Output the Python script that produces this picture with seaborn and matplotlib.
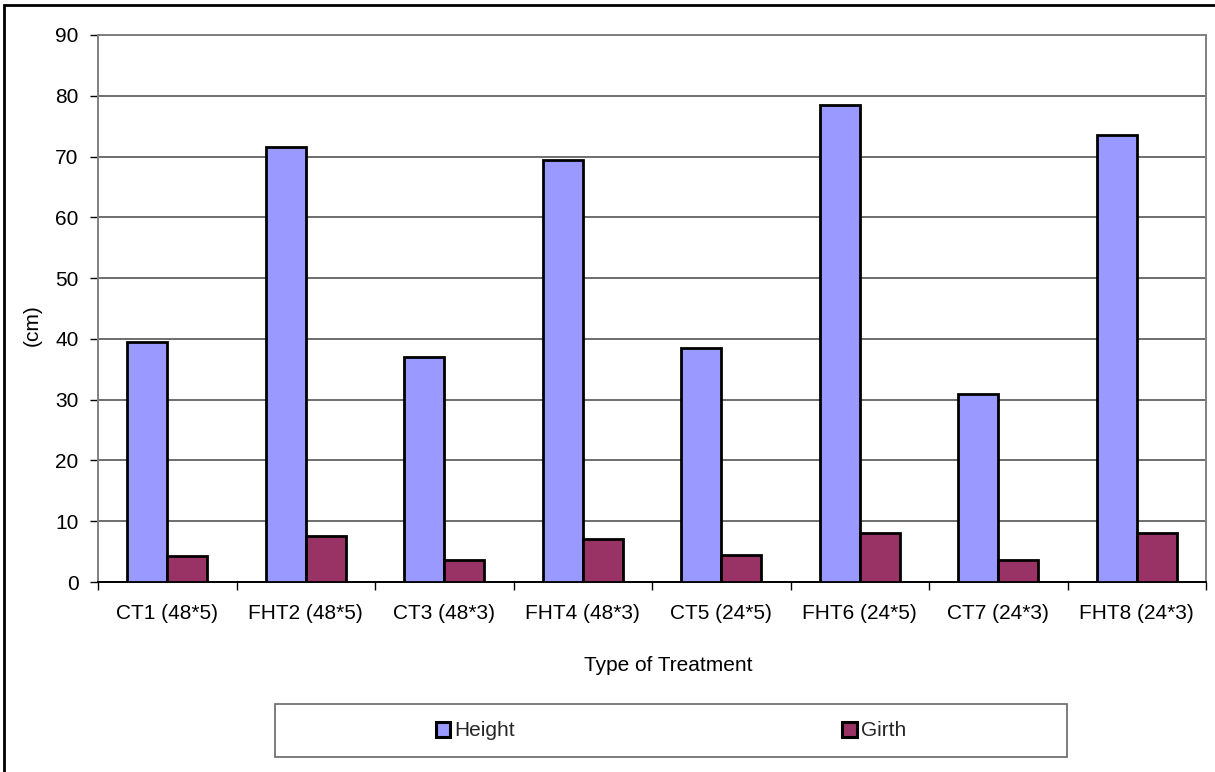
import matplotlib
matplotlib.use("Agg")
from matplotlib import pyplot as plt
from matplotlib.patches import Rectangle, Patch
import pandas as pd
import seaborn as sns
import numpy as np

# values
treatments = ["CT1 (48*5)", "FHT2 (48*5)", "CT3 (48*3)", "FHT4 (48*3)",
              "CT5 (24*5)", "FHT6 (24*5)", "CT7 (24*3)", "FHT8 (24*3)"]
height = [39.5, 71.5, 37.0, 69.5, 38.5, 78.5, 31.0, 73.5]
girth = [4.2, 7.5, 3.7, 7.0, 4.5, 8.0, 3.7, 8.0]
series = ["Height", "Girth"]
colors = ["#9999FF", "#993366"]
y_ticks = list(range(0, 100, 10))

df = pd.DataFrame({"Treatment": treatments * 2,
                   "Series": ["Height"] * len(treatments) + ["Girth"] * len(treatments),
                   "Value": height + girth})

sns.set_theme(style="white")
plt.rcParams['font.family'] = ['Liberation Sans', 'DejaVu Sans']

W, H = 1215, 772
FS = 15
fig = plt.figure(figsize=(W / 100, H / 100), dpi=100)
ax = fig.add_axes([98 / W, 1 - 582 / H, (1206 - 98) / W, (582 - 35) / H])

sns.barplot(ax=ax, data=df, x="Treatment", y="Value", hue="Series",
            hue_order=series, palette=colors, width=0.58, edgecolor="black",
            linewidth=2.0, saturation=1, legend=False, zorder=3)

ax.set_ylim(0, 90)
ax.set_xlim(-0.5, len(treatments) - 0.5)
ax.set_yticks(y_ticks)
ax.yaxis.grid(True, color="#555555", linewidth=1.2, zorder=0)
ax.set_axisbelow(True)

# tick marks between the categories, like the original
ax.set_xticks(np.arange(-0.5, len(treatments), 1.0), minor=True)
ax.tick_params(axis="x", which="major", length=0, pad=16, labelsize=FS, colors="black")
ax.tick_params(axis="x", which="minor", length=6, width=1, color="black", bottom=True)
ax.tick_params(axis="y", which="major", length=6, width=1, color="black", left=True,
               labelsize=FS, pad=8, labelcolor="black")

for side in ["left", "right", "top"]:
    ax.spines[side].set_color("#808080")
    ax.spines[side].set_linewidth(1.4)
ax.spines["bottom"].set_color("black")
ax.spines["bottom"].set_linewidth(1.4)

ax.set_xlabel("Type of Treatment", fontsize=FS, color="black")
ax.xaxis.set_label_coords((668 - 98) / 1108, -0.135)
ax.set_ylabel("(cm)", fontsize=FS, color="black")
ax.yaxis.set_label_coords(-0.051, 0.47)

# legend box
fig.add_artist(Rectangle((275 / W, 1 - 757 / H), (1067 - 275) / W, (757 - 704) / H,
                         transform=fig.transFigure, fill=False, edgecolor="#666666",
                         linewidth=1.2))
handles = [Patch(facecolor=c, edgecolor="black", linewidth=2.2, label=s)
           for s, c in zip(series, colors)]
fig.legend(handles=handles, loc="center", bbox_to_anchor=(671 / W, 1 - 731 / H),
           ncol=2, frameon=False, fontsize=FS, handlelength=0.7, handleheight=0.7,
           handletextpad=0.2, columnspacing=15.7)

# outer chart border
fig.add_artist(Rectangle((4 / W, -0.05), 1.1, 1 - 5 / H + 0.05, transform=fig.transFigure,
                         fill=False, edgecolor="black", linewidth=2))

fig.savefig("out.png", dpi=100, facecolor="white")
